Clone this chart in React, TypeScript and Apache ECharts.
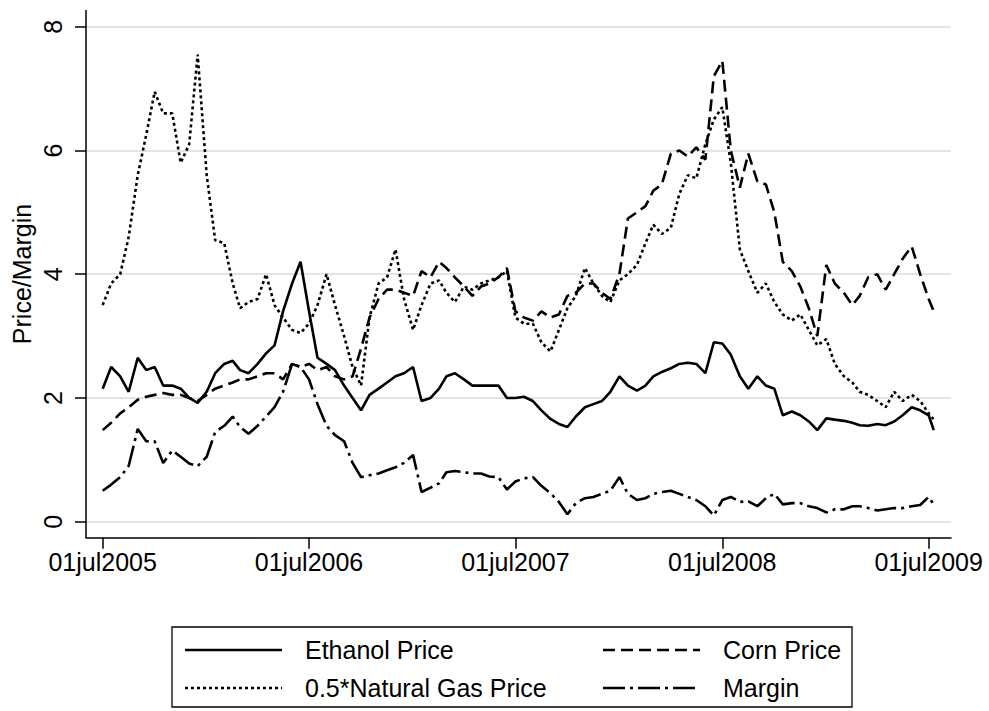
import React, { useEffect, useRef } from "react";
import * as echarts from "echarts";

// ---------- data ----------
const tickDates = ["2005-07-01", "2006-07-01", "2007-07-01", "2008-07-01", "2009-07-01"];
const yTicks = [0, 2, 4, 6, 8];
const seriesNames = ["Ethanol Price", "Corn Price", "0.5*Natural Gas Price", "Margin"];

// observation dates: 1st and 16th of every month Jul 2005 .. Jul 2009, last obs 10 Jul 2009
function buildDates(): string[] {
  const out: string[] = [];
  for (let m = 0; m <= 48; m++) {
    const y = 2005 + Math.floor((6 + m) / 12);
    const mo = ((6 + m) % 12) + 1;
    const mm = mo < 10 ? "0" + mo : "" + mo;
    out.push(`${y}-${mm}-01`);
    if (m < 48) out.push(`${y}-${mm}-16`);
  }
  out.push("2009-07-10");
  return out;
}
const dates = buildDates();

const ethanol = [
  2.15, 2.5, 2.35, 2.1, 2.65, 2.45, 2.5, 2.2, 2.2, 2.15,
  2.0, 1.92, 2.1, 2.4, 2.55, 2.6, 2.45, 2.4, 2.55, 2.72,
  2.85, 3.4, 3.85, 4.2, 3.4, 2.65, 2.55, 2.45, 2.2, 2.0,
  1.8, 2.05, 2.15, 2.25, 2.35, 2.4, 2.5, 1.95, 2.0, 2.15,
  2.35, 2.4, 2.3, 2.2, 2.2, 2.2, 2.2, 2.0, 2.0, 2.02,
  1.95, 1.8, 1.66, 1.58, 1.53, 1.7, 1.85, 1.9, 1.95, 2.1,
  2.35, 2.2, 2.12, 2.2, 2.35, 2.42, 2.48, 2.55, 2.57, 2.55,
  2.4, 2.9, 2.88, 2.7, 2.35, 2.15, 2.35, 2.2, 2.15, 1.72,
  1.78, 1.72, 1.62, 1.48, 1.67, 1.65, 1.63, 1.6, 1.56, 1.55,
  1.58, 1.56, 1.62, 1.72, 1.85, 1.8, 1.72, 1.48,
];

const corn = [
  1.48, 1.6, 1.75, 1.85, 1.97, 2.02, 2.05, 2.08, 2.05, 2.05,
  2.0, 1.95, 2.05, 2.15, 2.2, 2.25, 2.3, 2.3, 2.35, 2.4,
  2.4, 2.3, 2.55, 2.5, 2.55, 2.45, 2.5, 2.35, 2.3, 2.35,
  2.8, 3.3, 3.6, 3.75, 3.75, 3.7, 3.65, 4.05, 3.95, 4.2,
  4.1, 3.95, 3.8, 3.65, 3.8, 3.85, 3.95, 4.1, 3.4, 3.3,
  3.25, 3.4, 3.3, 3.35, 3.65, 3.7, 3.85, 3.85, 3.7, 3.6,
  4.0, 4.9, 5.0, 5.1, 5.35, 5.45, 5.95, 6.0, 5.9, 6.05,
  5.85, 7.2, 7.45, 6.0, 5.4, 5.95, 5.5, 5.45, 5.0, 4.2,
  4.05, 3.8, 3.45, 3.0, 4.15, 3.85, 3.7, 3.5, 3.65, 3.95,
  4.0, 3.75, 4.0, 4.25, 4.45, 4.0, 3.6, 3.4,
];

const gas = [
  3.5, 3.85, 4.0, 4.6, 5.6, 6.25, 6.95, 6.6, 6.6, 5.8,
  6.1, 7.55, 5.6, 4.55, 4.5, 3.85, 3.45, 3.55, 3.6, 4.0,
  3.5, 3.3, 3.1, 3.05, 3.2, 3.5, 4.0, 3.5, 3.0, 2.5,
  2.2, 3.3, 3.85, 3.95, 4.4, 3.6, 3.1, 3.5, 3.85, 3.9,
  3.7, 3.55, 3.8, 3.75, 3.85, 3.9, 3.95, 4.05, 3.3, 3.2,
  3.2, 2.9, 2.75, 3.1, 3.45, 3.65, 4.1, 3.85, 3.65, 3.55,
  3.9, 4.0, 4.15, 4.5, 4.8, 4.65, 4.75, 5.3, 5.6, 5.55,
  6.1, 6.5, 6.7, 5.8, 4.4, 4.05, 3.7, 3.85, 3.55, 3.35,
  3.25, 3.35, 3.1, 2.85, 2.95, 2.55, 2.35, 2.25, 2.1, 2.05,
  1.95, 1.85, 2.1, 1.95, 2.05, 1.95, 1.75, 1.65,
];

const margin = [
  0.5, 0.6, 0.72, 0.9, 1.5, 1.3, 1.3, 0.95, 1.15, 1.05,
  0.94, 0.9, 1.05, 1.45, 1.55, 1.7, 1.53, 1.42, 1.55, 1.7,
  1.85, 2.1, 2.55, 2.5, 2.3, 1.9, 1.55, 1.4, 1.3, 0.95,
  0.72, 0.75, 0.78, 0.83, 0.88, 0.95, 1.08, 0.48, 0.55, 0.62,
  0.8, 0.82, 0.8, 0.78, 0.78, 0.73, 0.72, 0.52, 0.65, 0.7,
  0.72, 0.58, 0.46, 0.32, 0.12, 0.3, 0.38, 0.4, 0.45, 0.5,
  0.72, 0.45, 0.35, 0.38, 0.45, 0.48, 0.5, 0.45, 0.4, 0.35,
  0.25, 0.1, 0.35, 0.4, 0.32, 0.33, 0.25, 0.38, 0.45, 0.28,
  0.3, 0.3, 0.25, 0.22, 0.15, 0.2, 0.2, 0.25, 0.25, 0.22,
  0.18, 0.2, 0.22, 0.22, 0.25, 0.27, 0.4, 0.28,
];

// ---------- chart ----------
const FONT = "'Liberation Sans', Arial, Helvetica, sans-serif";
const DAY = 86400000;
const MONTHS = ["jan", "feb", "mar", "apr", "may", "jun", "jul", "aug", "sep", "oct", "nov", "dec"];

function ts(d: string): number {
  return Date.parse(d + "T00:00:00Z");
}
function fmtDate(v: number): string {
  const d = new Date(v);
  const dd = d.getUTCDate();
  return (dd < 10 ? "0" + dd : "" + dd) + MONTHS[d.getUTCMonth()] + d.getUTCFullYear();
}

export default function App() {
  const ref = useRef<HTMLDivElement>(null);

  useEffect(() => {
    document.body.style.margin = "0";
    if (!ref.current) return;
    const chart = echarts.init(ref.current, undefined, { renderer: "svg" });
    const t0 = ts("2005-07-01");
    const tickTs = tickDates.map(ts);
    const pair = (arr: number[]) => arr.map((v, i) => [ts(dates[i]), v]);

    const dashes: any[] = ["solid", [12, 6], [3, 3], [22, 5, 3, 5]];
    const values = [ethanol, corn, gas, margin];
    const LW = 2.6;

    const legendRows = [
      { y: 650, items: [0, 1] },
      { y: 688, items: [2, 3] },
    ];
    const legendCols = [185, 603];
    const legendGraphics: any[] = [
      {
        type: "rect",
        shape: { x: 172, y: 627, width: 680, height: 80 },
        style: { fill: "#fff", stroke: "#000", lineWidth: 1.3 },
      },
    ];
    legendRows.forEach((row) => {
      row.items.forEach((si, c) => {
        const x0 = legendCols[c];
        legendGraphics.push({
          type: "line",
          shape: { x1: x0, y1: row.y, x2: x0 + 97, y2: row.y },
          style: {
            stroke: "#000",
            lineWidth: 2.4,
            lineDash: dashes[si] === "solid" ? null : dashes[si],
          },
        });
        legendGraphics.push({
          type: "text",
          x: x0 + 120,
          y: row.y,
          style: {
            text: seriesNames[si],
            font: `25px ${FONT}`,
            fill: "#000",
            textAlign: "left",
            textVerticalAlign: "middle",
          },
        });
      });
    });

    const option: any = {
      animation: false,
      backgroundColor: "#fff",
      textStyle: { fontFamily: FONT },
      grid: { left: 86, right: 38, top: 26.7, bottom: 711 - 521.7, containLabel: false },
      xAxis: {
        type: "value",
        min: t0 - 29.5 * DAY,
        max: t0 + 1500.5 * DAY,
        offset: 16,
        axisLine: { show: true, onZero: false, lineStyle: { color: "#000", width: 1.5 } },
        axisTick: { show: true, length: 11, customValues: tickTs, lineStyle: { color: "#000", width: 1.5 } },
        axisLabel: {
          show: true,
          customValues: tickTs,
          formatter: (v: number) => fmtDate(v),
          color: "#000",
          fontSize: 25,
          fontFamily: FONT,
          margin: 12,
        },
        splitLine: { show: false },
      },
      yAxis: {
        type: "value",
        min: 0,
        max: 8,
        interval: 2,
        axisLine: { show: false },
        axisTick: { show: true, length: 11, lineStyle: { color: "#000", width: 1.5 } },
        axisLabel: {
          show: true,
          rotate: 90,
          color: "#000",
          fontSize: 25,
          fontFamily: FONT,
          margin: 21,
          customValues: yTicks,
        },
        splitLine: { show: true, lineStyle: { color: "#e4e4e4", width: 2 } },
      },
      series: values.map((arr, k) => ({
        name: seriesNames[k],
        type: "line",
        data: pair(arr),
        showSymbol: false,
        symbol: "none",
        lineStyle: { color: "#000", width: LW, type: dashes[k] },
        z: 3,
      })),
      graphic: [
        {
          type: "line",
          shape: { x1: 86, y1: 10, x2: 86, y2: 538 },
          style: { stroke: "#000", lineWidth: 1.5 },
          z: 10,
        },
        {
          type: "text",
          x: 22,
          y: 274,
          rotation: Math.PI / 2,
          style: {
            text: "Price/Margin",
            font: `25px ${FONT}`,
            fill: "#000",
            textAlign: "center",
            textVerticalAlign: "middle",
          },
        },
        ...legendGraphics,
      ],
    };
    chart.setOption(option);
    return () => chart.dispose();
  }, []);

  return <div ref={ref} style={{ width: 989, height: 711 }} />;
}
